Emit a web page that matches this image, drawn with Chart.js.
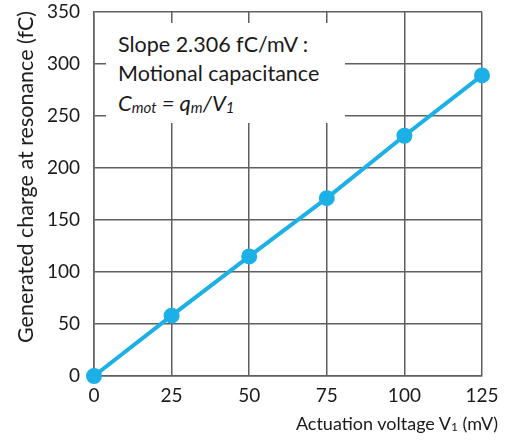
<!DOCTYPE html>
<html>
<head>
<meta charset="utf-8">
<script src="https://cdn.jsdelivr.net/npm/chart.js@4"></script>
<style>
  html, body { margin: 0; padding: 0; background: #fff; }
  #wrap { position: relative; width: 505px; height: 441px; }
  #note {
    position: absolute; left: 106px; top: 23px; width: 239px; height: 100px;
    background: #fff; font-family: Lato, sans-serif; font-size: 21.5px; color: #1a1a1a;
    box-sizing: border-box; padding: 7px 0 0 12px; line-height: 29px;
  }
  #note i { font-size: 22px; }
  #note i sub { font-size: 15px; vertical-align: -2px; }
  #xtitle {
    position: absolute; right: 7px; top: 412px; font-family: Lato, sans-serif;
    font-size: 18px; color: #1a1a1a; white-space: nowrap;
  }
  #xtitle sub { font-size: 12px; vertical-align: -1px; }
  #ytitle {
    position: absolute; left: 25px; top: 177px; font-family: Lato, sans-serif;
    font-size: 21.5px; color: #1a1a1a; white-space: nowrap;
    transform: translate(-50%, -50%) rotate(-90deg);
  }
</style>
</head>
<body>
<div id="wrap">
  <canvas id="chart" width="505" height="441"></canvas>
  <div id="note">Slope 2.306 fC/mV :<br>Motional capacitance<br><i>C<sub>mot</sub> = q<sub>m</sub>/V<sub>1</sub></i></div>
  <div id="xtitle">Actuation voltage V<sub>1</sub> (mV)</div>
  <div id="ytitle"></div>
</div>
<script>
const voltages = [0, 25, 50, 75, 100, 125];
const charges = [0, 58, 115, 171, 231, 289];
const yTitle = 'Generated charge at resonance (fC)';

const gridColor = '#5f5f5f';
const lineColor = '#1cb0e6';

document.getElementById('ytitle').textContent = yTitle;

new Chart(document.getElementById('chart').getContext('2d'), {
    type: 'scatter',
    data: {
        datasets: [{
            data: voltages.map((v, i) => ({ x: v, y: charges[i] })),
            showLine: true,
            borderColor: lineColor,
            backgroundColor: lineColor,
            borderWidth: 4,
            pointRadius: 6,
            pointHoverRadius: 6,
            clip: false
        }]
    },
    options: {
        responsive: false,
        animation: false,
        layout: { padding: { left: 0, top: 12, right: 23, bottom: 0 } },
        plugins: { legend: { display: false }, tooltip: { enabled: false } },
        scales: {
            x: {
                type: 'linear',
                min: 0, max: 125,
                ticks: { stepSize: 25, color: '#1a1a1a', padding: 8, font: { family: 'Lato', size: 19 } },
                grid: { color: gridColor, lineWidth: 1.5, drawTicks: false },
                border: { color: gridColor, width: 1.5 },
                afterFit: scale => { scale.height = 65; scale.paddingLeft = 0; scale.paddingRight = 0; }
            },
            y: {
                min: 0, max: 350,
                ticks: { stepSize: 50, color: '#1a1a1a', padding: 14, font: { family: 'Lato', size: 19 } },
                grid: { color: gridColor, lineWidth: 1.5, drawTicks: false },
                border: { color: gridColor, width: 1.5 },
                afterFit: scale => { scale.width = 94; scale.paddingTop = 0; scale.paddingBottom = 0; }
            }
        }
    }
});
</script>
</body>
</html>
